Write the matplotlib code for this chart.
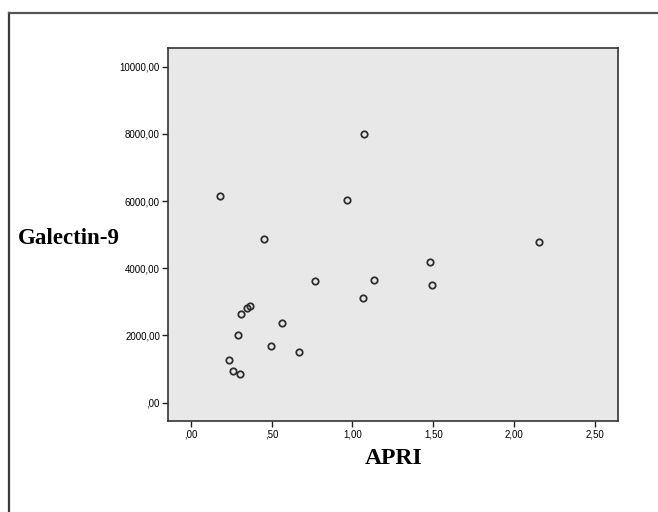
#!/usr/bin/env python3
# -*- coding: utf-8 -*-
"""
Scatter plot of Galectin-9 against APRI (SPSS style).
"""
import numpy as np
import matplotlib
matplotlib.use('Agg')
import matplotlib.pyplot as plt
from matplotlib.lines import Line2D

#Values
apri = [0.179, 0.967, 0.451, 0.767, 1.132, 1.064, 0.365, 0.348, 0.311, 0.567,
        0.294, 0.497, 0.670, 0.237, 0.264, 0.303, 1.074, 2.154, 1.480, 1.490]
galectin9 = [6140, 6021, 4869, 3618, 3658, 3121, 2883, 2805, 2636, 2367,
             2010, 1673, 1495, 1275, 947, 840, 7996, 4780, 4193, 3499]

xticks = [0.0, 0.5, 1.0, 1.5, 2.0, 2.5]
xticklabels = [',00', ',50', '1,00', '1,50', '2,00', '2,50']
yticks = [0, 2000, 4000, 6000, 8000, 10000]
yticklabels = [',00', '2000,00', '4000,00', '6000,00', '8000,00', '10000,00']

fig = plt.figure(figsize=(6.58, 5.12), dpi=100)
ax = fig.add_axes([0.2558, 0.1783, 0.6839, 0.7274])

ax.set_facecolor('#e8e8e8')
ax.plot(apri, galectin9, linestyle='none', marker='o', markersize=4.6,
        markerfacecolor='none', markeredgecolor='#2e2e2e', markeredgewidth=1.3)

ax.set_xlim(-0.1385, 2.644)
ax.set_ylim(-542, 10548)
ax.set_xticks(xticks)
ax.set_xticklabels(xticklabels, family='Liberation Sans', fontsize=7)
ax.set_yticks(yticks)
ax.set_yticklabels(yticklabels, family='Liberation Sans', fontsize=7)
ax.tick_params(direction='out', length=4, width=1, color='#222222', pad=2)

for side in ['left', 'bottom', 'top', 'right']:
    ax.spines[side].set_color('#333333')
    ax.spines[side].set_linewidth(1.2)

#axis titles placed like in the SPSS output
fig.text(69/658, 1-238/512, 'Galectin-9', family='Liberation Serif', fontweight='bold',
         fontsize=16.5, ha='center', va='center')
fig.text(394/658, 1-459/512, 'APRI', family='Liberation Serif', fontweight='bold',
         fontsize=17, ha='center', va='center')

#cropped outer frame (left and top lines only)
fig.add_artist(Line2D([9/658, 9/658], [0, 1-13/512], color='#3a3a3a', linewidth=1.6,
                      transform=fig.transFigure))
fig.add_artist(Line2D([9/658, 1], [1-13/512, 1-13/512], color='#555555', linewidth=1.6,
                      transform=fig.transFigure))

plt.savefig('out.png', dpi=100)
